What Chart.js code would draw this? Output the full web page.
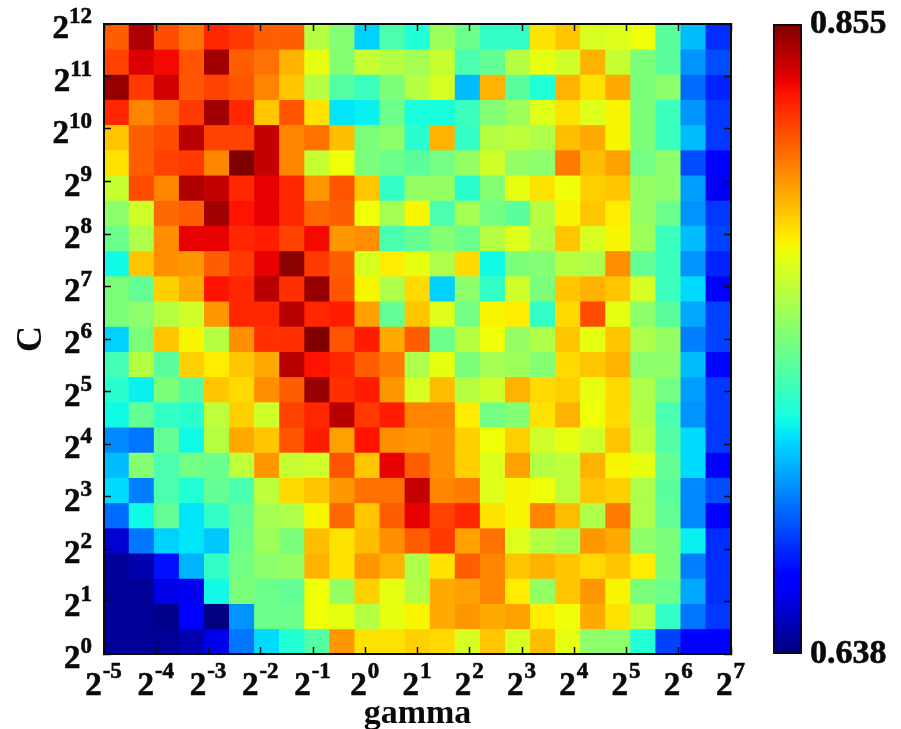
<!DOCTYPE html>
<html>
<head>
<meta charset="utf-8">
<title>gamma / C grid search</title>
<script src="https://cdn.jsdelivr.net/npm/chart.js@4"></script>
<style>
  html, body { margin: 0; padding: 0; background: #fff; }
  #wrap { position: relative; width: 901px; height: 729px; overflow: hidden; }
  #heatmap { position: absolute; left: 0; top: 0; }
  #colorbar { position: absolute; left: 740px; top: 0; }
</style>
</head>
<body>
<div id="wrap">
  <canvas id="heatmap" width="901" height="729"></canvas>
  <canvas id="colorbar" width="161" height="729"></canvas>
</div>
<script>
// score of every cell as position on the colour bar (0 = 0.638, 100 = 0.855), top row first
const row00 = [81,96,83,79,87,85,81,81,57,51,33,44,39,54,48,41,41,67,70,61,62,64,46,31,17];
const row01 = [84,92,90,82,97,81,79,72,63,51,59,57,55,59,44,47,57,63,60,72,59,50,46,27,20];
const row02 = [98,85,93,82,84,82,77,70,57,45,42,50,57,61,31,72,46,39,72,67,73,50,52,23,16];
const row03 = [87,77,80,85,97,87,70,82,67,35,36,48,38,38,42,51,54,62,67,62,65,50,42,27,18];
const row04 = [70,81,83,95,84,84,94,77,79,71,50,52,40,72,41,57,58,56,71,73,65,50,42,31,18];
const row05 = [67,81,84,85,77,100,94,77,59,64,50,48,46,49,53,60,53,52,78,71,74,49,52,20,11];
const row06 = [59,83,77,96,94,87,91,87,75,82,70,41,53,53,40,51,63,67,64,69,70,53,52,28,10];
const row07 = [52,60,80,81,97,89,91,87,80,81,64,55,65,44,55,49,46,57,65,70,66,53,48,27,18];
const row08 = [48,56,76,91,91,87,88,84,90,75,76,44,47,51,48,57,62,56,70,61,65,54,42,31,19];
const row09 = [37,70,76,75,81,85,91,99,85,81,61,66,63,56,68,37,50,51,57,56,76,47,42,27,16];
const row10 = [50,47,69,73,89,87,95,86,98,82,65,56,68,33,52,41,60,50,70,72,70,61,42,34,12];
const row11 = [50,52,57,60,75,87,87,95,87,88,74,47,70,62,49,65,66,41,68,83,63,52,46,29,19];
const row12 = [33,50,70,65,57,76,86,86,100,82,88,73,81,48,57,64,53,56,70,63,70,56,53,25,19];
const row13 = [43,57,46,69,66,70,73,95,89,87,81,78,56,63,50,55,54,51,68,70,72,52,52,31,13];
const row14 = [40,36,50,45,70,68,76,81,98,86,88,75,61,71,57,60,72,68,69,63,68,56,49,28,18];
const row15 = [37,47,41,40,58,69,60,84,87,95,85,88,77,77,66,49,51,67,72,64,68,57,44,27,18];
const row16 = [26,24,47,37,57,73,70,82,88,74,89,76,75,76,69,64,69,60,63,60,70,58,45,34,18];
const row17 = [31,51,44,49,48,58,75,59,60,82,70,91,81,76,69,62,74,57,58,72,65,63,47,34,11];
const row18 = [34,25,44,39,47,44,58,68,70,75,79,79,94,77,78,62,65,64,58,70,69,56,46,26,20];
const row19 = [23,37,47,35,41,47,55,56,65,80,70,81,91,84,87,67,65,77,71,56,78,56,47,26,11];
const row20 = [7,24,33,35,32,48,54,50,71,67,71,76,81,85,74,79,62,57,55,75,73,52,50,36,17];
const row21 = [2,4,14,30,41,49,52,53,72,67,75,72,56,67,81,77,70,72,70,68,70,66,50,25,17];
const row22 = [2,2,9,10,37,50,48,47,64,53,69,63,57,73,74,77,66,53,70,75,65,50,48,29,17];
const row23 = [2,2,1,11,0,27,48,48,64,63,57,63,65,73,75,73,74,66,64,73,67,58,41,24,18];
const row24 = [2,2,2,4,9,24,34,39,45,75,67,67,69,68,61,70,61,71,63,52,52,39,19,11,11];
const scoreRows = [row00,row01,row02,row03,row04,row05,row06,row07,row08,row09,row10,row11,row12,
                   row13,row14,row15,row16,row17,row18,row19,row20,row21,row22,row23,row24];

const gammaExponents = [-5,-4,-3,-2,-1,0,1,2,3,4,5,6,7];
const cExponents = [0,1,2,3,4,5,6,7,8,9,10,11,12];
const colorbarRange = [0.638, 0.855];

// jet colormap breakpoints
const jetR = [[0,0],[0.35,0],[0.66,1],[0.89,1],[1,0.5]];
const jetG = [[0,0],[0.125,0],[0.375,1],[0.64,1],[0.91,0],[1,0]];
const jetB = [[0,0.5],[0.11,1],[0.34,1],[0.65,0],[1,0]];

function channel(stops, t) {
  for (let i = 1; i < stops.length; i++) {
    if (t <= stops[i][0]) {
      const a = stops[i - 1], b = stops[i];
      return a[1] + (b[1] - a[1]) * (t - a[0]) / (b[0] - a[0]);
    }
  }
  return stops[stops.length - 1][1];
}

function jet(t) {
  const r = Math.round(channel(jetR, t) * 255);
  const g = Math.round(channel(jetG, t) * 255);
  const b = Math.round(channel(jetB, t) * 255);
  return `rgb(${r},${g},${b})`;
}

const labelFont = 'bold 33px "Liberation Serif"';
const expFont = 'bold 23px "Liberation Serif"';
const inkColor = '#0a0a0a';

// one bar dataset per row, cells are floating bars
const xMin = gammaExponents[0], xMax = gammaExponents[gammaExponents.length - 1];
const yMin = cExponents[0], yMax = cExponents[cExponents.length - 1];
const cellW = (xMax - xMin) / scoreRows[0].length;
const cellH = (yMax - yMin) / scoreRows.length;

const datasets = scoreRows.map((row, r) => ({
  data: row.map((v, c) => ({
    x: xMin + (c + 0.5) * cellW,
    y: [yMax - (r + 1) * cellH, yMax - r * cellH]
  })),
  backgroundColor: row.map(v => jet(v / 100)),
  borderWidth: 0,
  grouped: false,
  barPercentage: 1,
  categoryPercentage: 1
}));

function frameAxis(position, size, min, max, extra) {
  return Object.assign({
    type: 'linear',
    position: position,
    min: min,
    max: max,
    offset: false,
    ticks: { display: false, stepSize: 1 },
    grid: {
      offset: false,
      drawOnChartArea: false,
      drawTicks: true,
      tickLength: -7,
      tickWidth: 1.5,
      tickColor: inkColor,
      z: 1
    },
    border: { display: true, color: inkColor, width: 2, z: 1 },
    afterFit: function(scale) {
      if (scale.isHorizontal()) scale.height = size; else scale.width = size;
    }
  }, extra || {});
}

// tick labels with a raised exponent
const powerLabels = {
  id: 'powerLabels',
  afterDraw(chart) {
    const ctx = chart.ctx;
    const xs = chart.scales.x, ys = chart.scales.y;
    ctx.save();
    ctx.fillStyle = inkColor;
    ctx.strokeStyle = inkColor;
    ctx.lineWidth = 0.6;
    ctx.textBaseline = 'alphabetic';
    ctx.textAlign = 'left';

    function put(text, x, y) {
      ctx.fillText(text, x, y);
      ctx.strokeText(text, x, y);
    }

    gammaExponents.forEach(e => {
      const px = xs.getPixelForValue(e);
      const exp = String(e);
      ctx.font = expFont;
      const expW = ctx.measureText(exp).width;
      ctx.font = labelFont;
      const baseW = ctx.measureText('2').width;
      const left = px - (baseW + expW) / 2 - 1;
      put('2', left, 695);
      ctx.font = expFont;
      put(exp, left + baseW + 1, 678);
    });

    cExponents.forEach(e => {
      const py = ys.getPixelForValue(e);
      const exp = String(e);
      ctx.font = expFont;
      const expW = ctx.measureText(exp).width;
      ctx.font = labelFont;
      const baseW = ctx.measureText('2').width;
      const left = 92 - baseW - expW;
      put('2', left, py + 14);
      ctx.font = expFont;
      put(exp, left + baseW, py - 1);
    });
    ctx.restore();
  }
};

new Chart(document.getElementById('heatmap'), {
  type: 'bar',
  data: { datasets: datasets },
  plugins: [powerLabels],
  options: {
    responsive: false,
    animation: false,
    events: [],
    layout: { padding: 0 },
    plugins: { legend: { display: false }, tooltip: { enabled: false }, title: { display: false } },
    scales: {
      x: frameAxis('bottom', 75, xMin, xMax, {
        title: {
          display: true,
          text: 'gamma',
          color: inkColor,
          font: { family: '"Liberation Serif"', weight: 'bold', size: 34 },
          padding: { top: 0, bottom: -6 }
        }
      }),
      x2: frameAxis('top', 24, xMin, xMax),
      y: frameAxis('left', 104, yMin, yMax, {
        title: {
          display: true,
          text: 'C',
          color: inkColor,
          font: { family: '"Liberation Serif"', weight: 'bold', size: 36 },
          padding: { top: 10, bottom: 0 }
        }
      }),
      y2: frameAxis('right', 170, yMin, yMax)
    }
  }
});

// colour bar
new Chart(document.getElementById('colorbar'), {
  type: 'bar',
  data: {
    labels: ['score'],
    datasets: [{
      data: [colorbarRange],
      borderColor: inkColor,
      borderWidth: 2,
      borderSkipped: false,
      barPercentage: 1,
      categoryPercentage: 1,
      backgroundColor: function(context) {
        const area = context.chart.chartArea;
        if (!area) return '#000';
        const g = context.chart.ctx.createLinearGradient(0, area.bottom, 0, area.top);
        for (let i = 0; i <= 100; i++) g.addColorStop(i / 100, jet(i / 100));
        return g;
      }
    }]
  },
  options: {
    responsive: false,
    animation: false,
    events: [],
    layout: { padding: { left: 33, top: 24, bottom: 75, right: 0 } },
    plugins: { legend: { display: false }, tooltip: { enabled: false } },
    scales: {
      x: { display: false },
      y: {
        position: 'right',
        min: colorbarRange[0],
        max: colorbarRange[1],
        grid: { display: false },
        border: { display: false },
        afterBuildTicks: function(scale) {
          scale.ticks = colorbarRange.map(v => ({ value: v }));
        },
        afterFit: function(scale) {
          scale.width = 99;
          scale.paddingTop = 0;
          scale.paddingBottom = 0;
        },
        ticks: {
          color: inkColor,
          padding: 0,
          textStrokeColor: inkColor,
          textStrokeWidth: 0.6,
          font: { family: '"Liberation Serif"', weight: 'bold', size: 34 },
          callback: function(v) { return v.toFixed(3); }
        }
      }
    }
  }
});
</script>
</body>
</html>
